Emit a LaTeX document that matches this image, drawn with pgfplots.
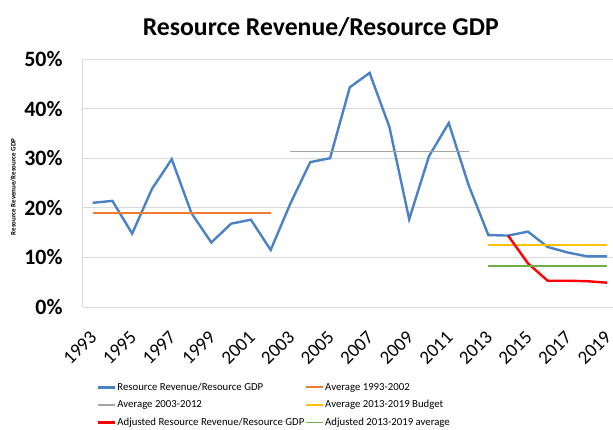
\documentclass[border=0pt]{standalone}
\usepackage{pgfplots}
\pgfplotsset{compat=1.18}
\usepackage{fontspec}
\setmainfont{Carlito}
\definecolor{serA}{RGB}{74,130,196}
\definecolor{serB}{RGB}{237,125,49}
\definecolor{serC}{RGB}{165,165,165}
\definecolor{serD}{RGB}{255,192,0}
\definecolor{serE}{RGB}{112,173,71}
\definecolor{serF}{RGB}{255,0,0}
\definecolor{gridc}{RGB}{217,217,217}
\begin{document}
\begin{tikzpicture}
\begin{axis}[
  scale only axis,
  width=530.3bp, height=248bp,
  xmin=1992.5, xmax=2019.3,
  ymin=0, ymax=50,
  axis x line*=bottom, axis y line*=left,
  axis line style={gridc, line width=0.8bp},
  x axis line style={-}, y axis line style={-},
  ymajorgrids, grid style={gridc, line width=0.8bp},
  major tick length=0pt,
  xtick={1993,1995,...,2019},
  ytick={0,10,...,50},
  /pgf/number format/assume math mode=true,
  xticklabel style={font=\fontsize{19}{20}\selectfont, xshift=1bp, yshift=-27bp, rotate=45, anchor=east, inner sep=0pt, /pgf/number format/1000 sep={}},
  yticklabel style={font=\bfseries\fontsize{22}{24}\selectfont, anchor=east, inner sep=0pt, xshift=-20bp},
  yticklabel={\pgfmathprintnumber{\tick}\%},
  ylabel={Resource Revenue/Resource GDP},
  every axis y label/.style={at={(axis description cs:-0.131,0.484)}, rotate=90, anchor=center, font=\bfseries\fontsize{7}{8}\selectfont},
  legend columns=2,
  legend cell align=left,
  legend style={at={(axis description cs:0.021,-0.29)}, anchor=north west, draw=none, fill=none,
    font=\fontsize{10.8}{12}\selectfont, column sep=0pt, row sep=5bp,
    nodes={inner xsep=1bp, inner ysep=1bp, text height=8bp, text depth=2.5bp}},
  legend image code/.code={\draw[#1] (0bp,0bp) -- (17bp,0bp);},
  clip=false,
]
\addplot[draw=serA, line width=2.4bp] coordinates {
(1993,21.0) (1994,21.4) (1995,14.8) (1996,23.8) (1997,29.8) (1998,18.9) (1999,13.0)
(2000,16.8) (2001,17.6) (2002,11.5) (2003,20.9) (2004,29.2) (2005,30.0) (2006,44.3)
(2007,47.2) (2008,36.3) (2009,17.7) (2010,30.4) (2011,37.1) (2012,24.6) (2013,14.5)
(2014,14.4) (2015,15.2) (2016,12.1) (2017,11.0) (2018,10.2) (2019,10.2)};
\addlegendentry{Resource Revenue/Resource GDP}
\addplot[draw=serB, line width=1.9bp] coordinates {(1993,18.9) (2002,18.9)};
\addlegendentry{Average 1993-2002}
\addplot[draw=serC, line width=1.5bp] coordinates {(2003,31.4) (2012,31.4)};
\addlegendentry{Average 2003-2012}
\addplot[draw=serD, line width=1.5bp] coordinates {(2013,12.5) (2019,12.5)};
\addlegendentry{Average 2013-2019 Budget}
\addplot[draw=serF, line width=2.4bp] coordinates {
(2014,14.4) (2015,8.8) (2016,5.3) (2017,5.3) (2018,5.2) (2019,4.9)};
\addlegendentry{Adjusted Resource Revenue/Resource GDP}
\addplot[draw=serE, line width=1.5bp] coordinates {(2013,8.3) (2019,8.3)};
\addlegendentry{Adjusted 2013-2019 average}
\node[font=\bfseries\fontsize{25.8}{28}\selectfont] at (axis description cs:0.449,1.127) {Resource Revenue/Resource GDP};
\end{axis}
\pgfresetboundingbox
\path (-82.7bp,-123bp) rectangle (530.3bp,307bp);
\end{tikzpicture}
\end{document}
